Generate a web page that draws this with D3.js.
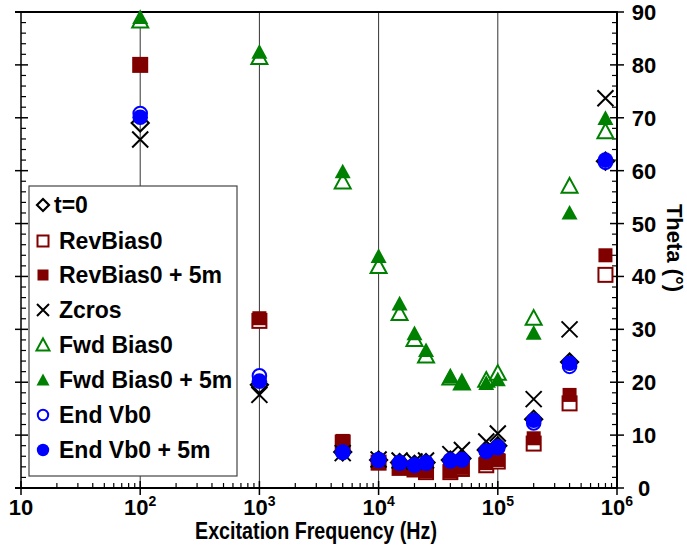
<!DOCTYPE html>
<html><head><meta charset="utf-8">
<script src="https://cdn.jsdelivr.net/npm/d3@7"></script>
<style>
html,body{margin:0;padding:0;background:#fff;}
text{font-family:Arial,"Liberation Sans",Helvetica,sans-serif;font-weight:bold;fill:#000;}
</style></head>
<body><svg id="c" width="687" height="545"></svg>
<script>
const freqs = [100, 1000, 5000, 10000, 15000, 20000, 25000, 40000, 50000, 80000, 100000, 200000, 400000, 800000];
const t0       = [69.0, 19.5, 6.8, 5.3, 4.8, 4.5, 4.8, 5.3, 5.6, 7.2, 8.0, 13.0, 23.8, 61.8];
const revBias0 = [80.0, 31.6, 8.6, 4.8, 3.8, 3.5, 3.0, 3.0, 3.6, 4.3, 5.0, 8.4, 16.0, 40.3];
const revBias5 = [80.1, 32.1, 8.9, 4.7, 3.9, 3.6, 3.2, 3.2, 3.8, 4.7, 5.3, 9.4, 17.6, 44.0];
const zcros    = [65.9, 17.6, 6.6, 5.4, 5.2, 5.0, 5.2, 6.4, 7.2, 8.8, 10.3, 16.8, 30.0, 73.7];
const fwdBias0 = [88.3, 81.4, 57.9, 41.9, 33.0, 28.1, 25.0, 20.8, 19.9, 20.4, 21.7, 32.1, 57.1, 67.4];
const fwdBias5 = [89.0, 82.4, 59.8, 43.8, 34.8, 29.2, 26.0, 21.0, 19.9, 19.8, 20.5, 29.3, 52.0, 69.9];
const endVb0   = [70.8, 21.2, 6.8, 5.4, 4.8, 4.4, 4.8, 5.3, 5.4, 7.0, 7.8, 12.3, 23.0, 61.6];
const endVb5   = [70.1, 20.2, 6.7, 5.2, 4.7, 4.3, 4.7, 5.1, 5.3, 6.9, 7.6, 12.8, 23.6, 62.0];
const seriesNames = ["t=0","RevBias0","RevBias0 + 5m","Zcros","Fwd Bias0","Fwd Bias0 + 5m","End Vb0","End Vb0 + 5m"];
const xTickExps = [1,2,3,4,5,6];
const yTicks = [0,10,20,30,40,50,60,70,80,90];

const RED="#800000", GREEN="#008000", BLUE="#0000ff";
const series = [
  {name:seriesNames[0], vals:t0, shape:"diamond", color:"#000", fill:false},
  {name:seriesNames[1], vals:revBias0, shape:"square", color:RED, fill:false},
  {name:seriesNames[2], vals:revBias5, shape:"square", color:RED, fill:true},
  {name:seriesNames[3], vals:zcros, shape:"x", color:"#000", fill:false},
  {name:seriesNames[4], vals:fwdBias0, shape:"triangle", color:GREEN, fill:false},
  {name:seriesNames[5], vals:fwdBias5, shape:"triangle", color:GREEN, fill:true},
  {name:seriesNames[6], vals:endVb0, shape:"circle", color:BLUE, fill:false},
  {name:seriesNames[7], vals:endVb5, shape:"circle", color:BLUE, fill:true}
];

const svg = d3.select("#c");
const L=21, R=617, T=12, B=488;
const x = d3.scaleLog().domain([10,1e6]).range([L,R]);
const y = d3.scaleLinear().domain([0,90]).range([B,T]);

// grid lines
svg.append("g").selectAll("line").data([1e2,1e3,1e4,1e5]).join("line")
  .attr("x1",d=>x(d)).attr("x2",d=>x(d)).attr("y1",T).attr("y2",B)
  .attr("stroke","#333").attr("stroke-width",1);

// frame
const fr = svg.append("g").attr("stroke","#000").attr("fill","none");
fr.append("line").attr("x1",L-6).attr("x2",R).attr("y1",T).attr("y2",T).attr("stroke-width",2);
fr.append("line").attr("x1",L-6).attr("x2",R+1).attr("y1",B).attr("y2",B).attr("stroke-width",2);
fr.append("line").attr("x1",L).attr("x2",L).attr("y1",T).attr("y2",B).attr("stroke-width",1.5);
fr.append("line").attr("x1",R).attr("x2",R).attr("y1",T-1).attr("y2",B+1).attr("stroke-width",2);

// y ticks (left & right)
const yMinor = d3.range(0,91,2);
const tk = svg.append("g").attr("stroke","#000");
yMinor.forEach(v=>{
  const major = v%10===0;
  const yy = y(v);
  if(major){
    tk.append("line").attr("x1",L-6).attr("x2",L+7).attr("y1",yy).attr("y2",yy).attr("stroke-width",1.5);
    tk.append("line").attr("x1",R-7).attr("x2",R+7).attr("y1",yy).attr("y2",yy).attr("stroke-width",1.5);
  } else {
    tk.append("line").attr("x1",L).attr("x2",L+5).attr("y1",yy).attr("y2",yy).attr("stroke-width",1.2);
    tk.append("line").attr("x1",R-5).attr("x2",R).attr("y1",yy).attr("y2",yy).attr("stroke-width",1.2);
  }
});
// x ticks
xTickExps.forEach(e=>{
  const xx = x(Math.pow(10,e));
  tk.append("line").attr("x1",xx).attr("x2",xx).attr("y1",B-7).attr("y2",B+7).attr("stroke-width",1.5);
  if(e<6){
    for(let m=2;m<=9;m++){
      const xm = x(m*Math.pow(10,e));
      tk.append("line").attr("x1",xm).attr("x2",xm).attr("y1",B-5).attr("y2",B).attr("stroke-width",1.2);
    }
  }
});

// y tick labels (right)
svg.append("g").selectAll("text").data(yTicks).join("text")
  .attr("x",R+27).attr("y",d=>y(d)+8).attr("text-anchor","middle").attr("font-size",22).text(d=>d);

// x tick labels
const xl = svg.append("g");
xTickExps.forEach(e=>{
  const t = xl.append("text").attr("x",x(Math.pow(10,e))).attr("y",515)
    .attr("text-anchor","middle").attr("font-size",22);
  t.append("tspan").text("10");
  if(e>1) t.append("tspan").attr("font-size",14).attr("dy",-9).text(e);
});

// axis titles
svg.append("text").attr("x",316).attr("y",539).attr("text-anchor","middle")
  .attr("font-size",23).attr("textLength",242).attr("lengthAdjust","spacingAndGlyphs")
  .text("Excitation Frequency (Hz)");
svg.append("text").attr("transform","translate(667,248) rotate(90)")
  .attr("text-anchor","middle").attr("font-size",22).text("Theta (°)");

// legend
const lg = svg.append("g");
lg.append("rect").attr("x",29).attr("y",186).attr("width",208).attr("height",290)
  .attr("fill","#fff").attr("stroke","#444").attr("stroke-width",1.2);

function drawMarker(g, shape, cx, cy, color, filled, s){
  const sw = 2;
  const fill = filled ? color : "#fff";
  if(shape==="square"){
    g.append("rect").attr("x",cx-s.sq/2).attr("y",cy-s.sq/2).attr("width",s.sq).attr("height",s.sq)
      .attr("fill",fill).attr("stroke",color).attr("stroke-width",filled?0:sw);
  } else if(shape==="circle"){
    g.append("circle").attr("cx",cx).attr("cy",cy).attr("r",filled?s.r:s.r-1)
      .attr("fill",fill).attr("stroke",color).attr("stroke-width",filled?0:sw);
  } else if(shape==="triangle"){
    const h=s.tri*0.92, w=s.tri/2;
    const p = `M${cx},${cy-h*0.55}L${cx+w},${cy+h*0.45}L${cx-w},${cy+h*0.45}Z`;
    g.append("path").attr("d",p).attr("fill",fill).attr("stroke",color)
      .attr("stroke-width",filled?0:sw).attr("stroke-linejoin","miter");
  } else if(shape==="diamond"){
    const d=s.dia;
    g.append("path").attr("d",`M${cx},${cy-d}L${cx+d},${cy}L${cx},${cy+d}L${cx-d},${cy}Z`)
      .attr("fill","none").attr("stroke",color).attr("stroke-width",2.2);
  } else if(shape==="x"){
    const d=s.x;
    g.append("path").attr("d",`M${cx-d},${cy-d}L${cx+d},${cy+d}M${cx-d},${cy+d}L${cx+d},${cy-d}`)
      .attr("stroke",color).attr("stroke-width",2);
  }
}
const bigS = {sq:14, r:7.8, tri:16, dia:8.5, x:8};
const smallS = {sq:11, r:6.2, tri:13, dia:6, x:6};

const legY = [205,241,275,310,345,380,415,450];
series.forEach((s,i)=>{
  drawMarker(lg, s.shape, 43, legY[i], s.color, s.fill, smallS);
  lg.append("text").attr("x",i===0?54:59).attr("y",legY[i]+8).attr("font-size",23).text(s.name);
});

// data marks
const dg = svg.append("g");
series.forEach(s=>{
  const g = dg.append("g");
  s.vals.forEach((v,i)=>drawMarker(g, s.shape, x(freqs[i]), y(v), s.color, s.fill, bigS));
});
</script></body></html>
